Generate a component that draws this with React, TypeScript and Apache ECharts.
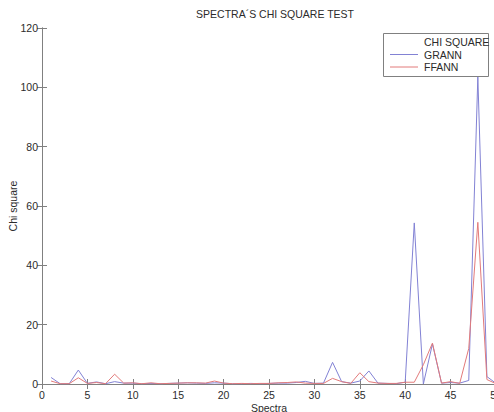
import React, { useEffect, useRef } from "react";
import * as echarts from "echarts";

const spectra = [1, 2, 3, 4, 5, 6, 7, 8, 9, 10, 11, 12, 13, 14, 15, 16, 17, 18, 19, 20, 21, 22, 23, 24, 25, 26, 27, 28, 29, 30, 31, 32, 33, 34, 35, 36, 37, 38, 39, 40, 41, 42, 43, 44, 45, 46, 47, 48, 49, 50];
const grann = [2.2, 0.1, 0.1, 4.7, 0.2, 0.7, 0.1, 0.8, 0.3, 0.3, 0.1, 0.2, 0.1, 0.2, 0.3, 0.4, 0.3, 0.2, 0.4, 0.3, 0.1, 0.1, 0.2, 0.1, 0.2, 0.3, 0.3, 0.5, 0.9, 0.2, 0.3, 7.3, 0.8, 0.3, 1.0, 4.4, 0.3, 0.2, 0.1, 0.6, 54.3, 0.0, 13.5, 0.3, 0.5, 0.3, 1.2, 103.5, 2.5, 0.2];
const ffann = [1.0, 0.1, 0.1, 2.1, 0.2, 0.5, 0.1, 3.3, 0.3, 0.4, 0.1, 0.4, 0.1, 0.2, 0.3, 0.4, 0.4, 0.3, 1.0, 0.3, 0.1, 0.2, 0.1, 0.2, 0.2, 0.4, 0.5, 0.7, 0.3, 0.2, 0.2, 1.9, 0.8, 0.2, 3.8, 0.8, 0.3, 0.2, 0.2, 0.6, 0.6, 6.5, 13.8, 0.3, 0.8, 0.2, 12.0, 54.5, 1.5, 0.1];
const seriesNames = ["CHI SQUARE", "GRANN", "FFANN"];
const titleText = "SPECTRA´S CHI SQUARE TEST";
const xName = "Spectra";
const yName = "Chi square";

const FONT = "'Liberation Sans', Arial, sans-serif";
const TEXT = "#2b2b2b";
const AXIS = "#808080";
const BLUE = "#8282d4";
const RED = "#e27a7a";

export default function App() {
  const ref = useRef<HTMLDivElement>(null);
  useEffect(() => {
    if (!ref.current) return;
    const chart = echarts.init(ref.current, null, { renderer: "svg" });
    const axisLine = { show: true, lineStyle: { color: AXIS, width: 1 } };
    const tick = { show: true, inside: true, length: 5, lineStyle: { color: AXIS } };
    const label = { color: TEXT, fontFamily: FONT, fontSize: 10.5 };
    const legendColors = [null, BLUE, RED];
    const rowY = [42, 54.5, 67];
    const legendGraphics: any[] = [
      {
        type: "rect",
        shape: { x: 383.5, y: 33.5, width: 105, height: 43 },
        style: { fill: "#fff", stroke: AXIS, lineWidth: 1 },
        z: 10,
      },
    ];
    seriesNames.forEach((n, i) => {
      if (legendColors[i]) {
        legendGraphics.push({
          type: "line",
          shape: { x1: 390, y1: rowY[i], x2: 418, y2: rowY[i] },
          style: { stroke: legendColors[i], lineWidth: 1 },
          z: 11,
        });
      }
      legendGraphics.push({
        type: "text",
        x: 424,
        y: rowY[i],
        style: {
          text: n,
          fill: TEXT,
          font: `10.5px ${FONT}`,
          textVerticalAlign: "middle",
          verticalAlign: "middle",
        },
        z: 11,
      });
    });
    chart.setOption({
      animation: false,
      backgroundColor: "#ffffff",
      textStyle: { fontFamily: FONT },
      title: {
        text: titleText,
        left: 270,
        top: 3,
        textAlign: "center",
        textStyle: { color: TEXT, fontFamily: FONT, fontSize: 10.5, fontWeight: "normal" },
      },
      grid: { left: 42, right: -2, top: 28, bottom: 28, outerBoundsMode: "none", containLabel: false },
      graphic: legendGraphics,
      xAxis: [
        {
          type: "value",
          min: 0,
          max: 50,
          interval: 5,
          name: xName,
          nameLocation: "middle",
          nameGap: 18,
          nameMoveOverlap: false,
          nameTextStyle: { color: TEXT, fontFamily: FONT, fontSize: 10.5 },
          axisLine,
          axisTick: tick,
          axisLabel: { ...label, margin: 5 },
          splitLine: { show: false },
        },
        {
          type: "value",
          position: "top",
          min: 0,
          max: 50,
          interval: 5,
          axisLine,
          axisTick: tick,
          axisLabel: { show: false },
          splitLine: { show: false },
        },
      ],
      yAxis: [
        {
          type: "value",
          min: 0,
          max: 120,
          interval: 20,
          name: yName,
          nameLocation: "middle",
          nameGap: 24,
          nameMoveOverlap: false,
          nameTextStyle: { color: TEXT, fontFamily: FONT, fontSize: 10.5 },
          axisLine,
          axisTick: tick,
          axisLabel: { ...label, margin: 4 },
          splitLine: { show: false },
        },
        {
          type: "value",
          position: "right",
          min: 0,
          max: 120,
          interval: 20,
          axisLine,
          axisTick: tick,
          axisLabel: { show: false },
          splitLine: { show: false },
        },
      ],
      series: [
        {
          name: seriesNames[1],
          type: "line",
          data: spectra.map((s, i) => [s, grann[i]]),
          symbol: "none",
          lineStyle: { color: BLUE, width: 1 },
          itemStyle: { color: BLUE },
        },
        {
          name: seriesNames[2],
          type: "line",
          data: spectra.map((s, i) => [s, ffann[i]]),
          symbol: "none",
          lineStyle: { color: RED, width: 1 },
          itemStyle: { color: RED },
        },
      ],
    });
    return () => chart.dispose();
  }, []);
  return (
    <div
      ref={ref}
      style={{ position: "fixed", left: 0, top: 0, width: 494, height: 412, background: "#fff" }}
    />
  );
}
